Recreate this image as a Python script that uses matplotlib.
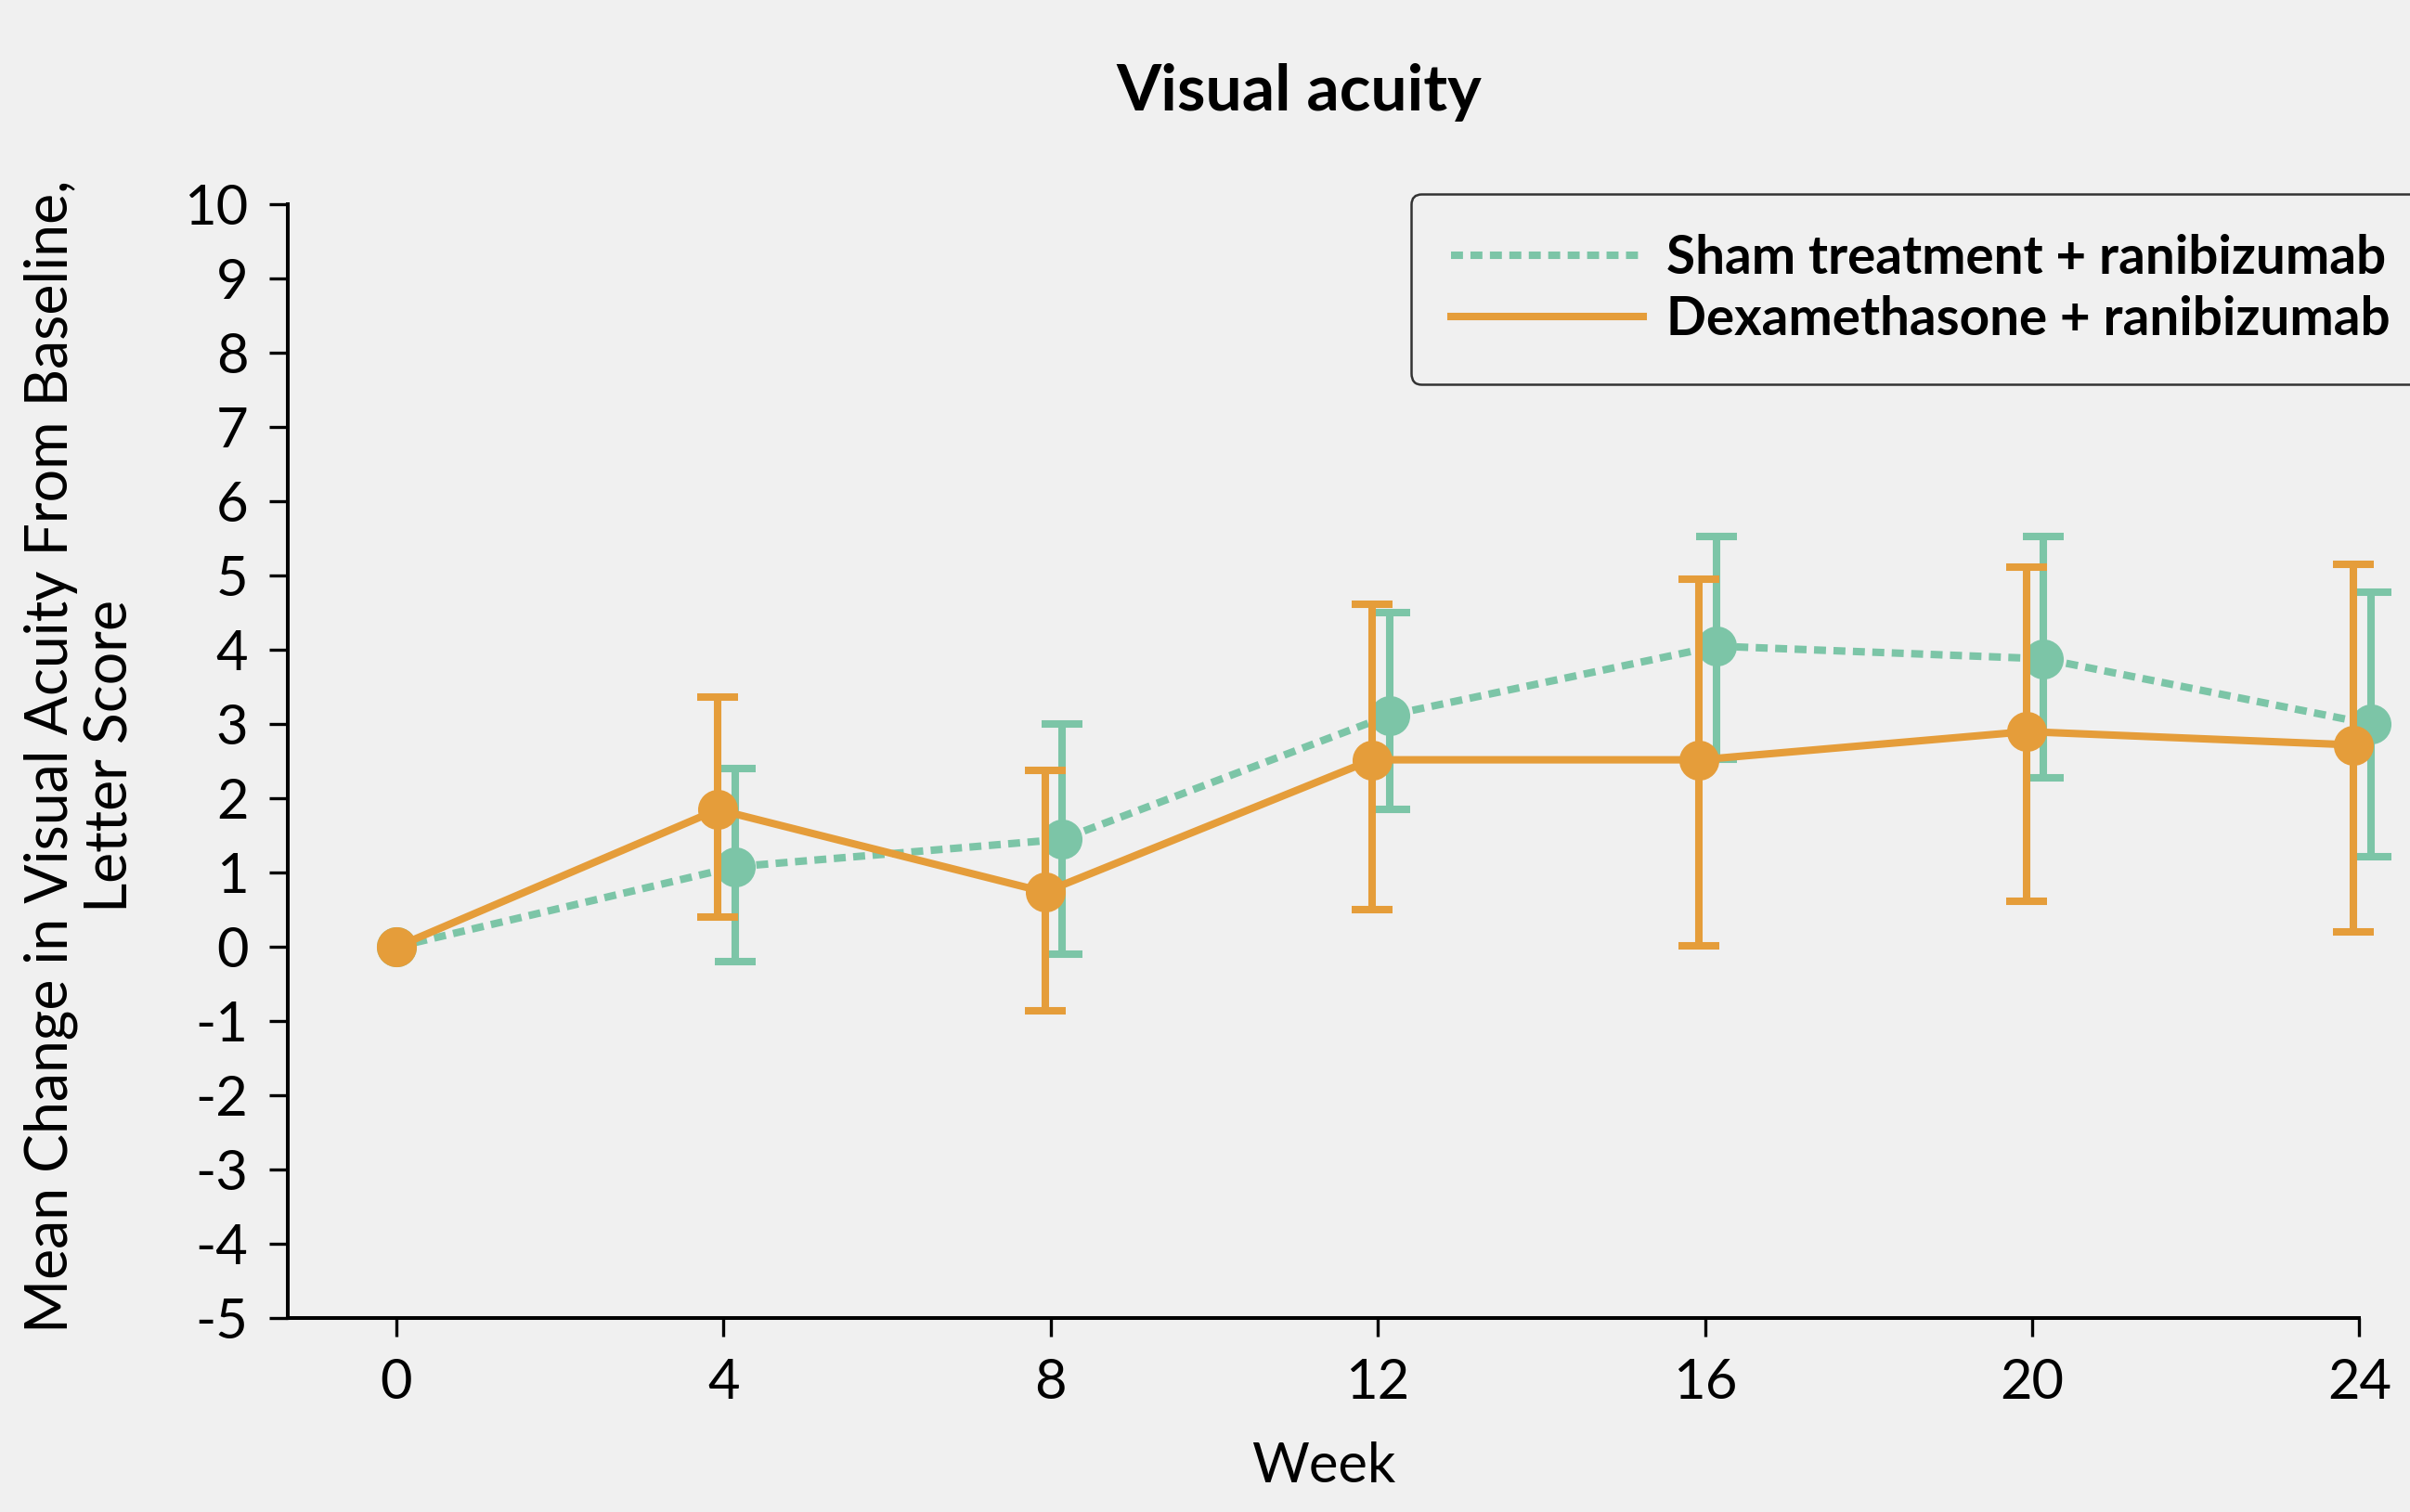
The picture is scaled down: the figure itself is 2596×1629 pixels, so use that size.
import matplotlib
matplotlib.use("Agg")
import matplotlib.pyplot as plt
import numpy as np

# weeks of follow-up
weeks = [0, 4, 8, 12, 16, 20, 24]

# Sham treatment + ranibizumab: mean change and 95% CI bounds
sham_mean = [0.0, 1.08, 1.45, 3.12, 4.05, 3.88, 3.0]
sham_low = [np.nan, -0.2, -0.1, 1.85, 2.53, 2.28, 1.22]
sham_high = [np.nan, 2.4, 3.0, 4.5, 5.53, 5.53, 4.78]

# Dexamethasone + ranibizumab
dex_mean = [0.0, 1.85, 0.74, 2.52, 2.52, 2.9, 2.72]
dex_low = [np.nan, 0.4, -0.86, 0.5, 0.02, 0.62, 0.2]
dex_high = [np.nan, 3.36, 2.38, 4.62, 4.95, 5.12, 5.15]

labels = ["Sham treatment + ranibizumab", "Dexamethasone + ranibizumab"]

GREEN = "#7cc5a7"
ORANGE = "#e59d3a"
BG = "#f0f0f0"

plt.rcParams["font.family"] = ["Lato", "DejaVu Sans"]
plt.rcParams["axes.unicode_minus"] = False


def draw_series(ax, x, mean, low, high, color, ls, dodge, label, z):
    x = np.array(x, dtype=float)
    x = np.where(x > 0, x + dodge, x)
    mean = np.array(mean)
    low = np.array(low)
    high = np.array(high)
    ok = ~np.isnan(low)
    ax.errorbar(x[ok], mean[ok], yerr=[mean[ok] - low[ok], high[ok] - mean[ok]],
                fmt="none", ecolor=color, elinewidth=2.9, capsize=8, capthick=2.9,
                zorder=z, clip_on=False)
    ax.plot(x, mean, color=color, linestyle=ls, linewidth=2.9, marker="o",
            markersize=14.5, label=label, zorder=z + 0.5, clip_on=False,
            dash_capstyle="butt")


def main():
    fig = plt.figure(figsize=(12.98, 8.145), dpi=200, facecolor=BG)
    ax = fig.add_axes([0.1193, 0.128, 0.979 - 0.1193, 0.865 - 0.128])
    ax.set_facecolor(BG)

    draw_series(ax, weeks, sham_mean, sham_low, sham_high, GREEN,
                (0, (1.6, 1.0)), 0.14, labels[0], 2)
    draw_series(ax, weeks, dex_mean, dex_low, dex_high, ORANGE,
                "-", -0.07, labels[1], 3)

    ax.set_xlim(-1.33, 24)
    ax.set_ylim(-5, 10)
    ax.set_xticks(weeks)
    ax.set_yticks(range(-5, 11))
    for s in ["top", "right"]:
        ax.spines[s].set_visible(False)
    for s in ["left", "bottom"]:
        ax.spines[s].set_linewidth(1.45)
    ax.tick_params(axis="both", length=7.2, width=1.2, labelsize=21.5, pad=8)

    ax.set_xlabel("Week", fontsize=21.5, labelpad=13)
    fig.text(0.0335, 0.5,
             "Mean Change in Visual Acuity From Baseline,\nLetter Score",
             rotation=90, ha="center", va="center", fontsize=22.5,
             multialignment="center", linespacing=1.15)
    fig.text(0.539, 0.939, "Visual acuity", ha="center", va="center",
             fontsize=25, fontweight="bold")

    leg = ax.legend(loc="upper left", bbox_to_anchor=(1520 / 2596, 1 - 209 / 1629),
                    bbox_transform=fig.transFigure, borderaxespad=0,
                    handlelength=3.65, handletextpad=0.45,
                    borderpad=0.76, labelspacing=0.22, fancybox=True,
                    framealpha=1, facecolor=BG, edgecolor="#333333",
                    prop={"weight": "bold", "size": 20.4})
    leg.get_frame().set_linewidth(0.9)
    for h in leg.legend_handles:
        h.set_marker("")

    fig.savefig("out.png", dpi=200, facecolor=BG)


if __name__ == "__main__":
    main()
